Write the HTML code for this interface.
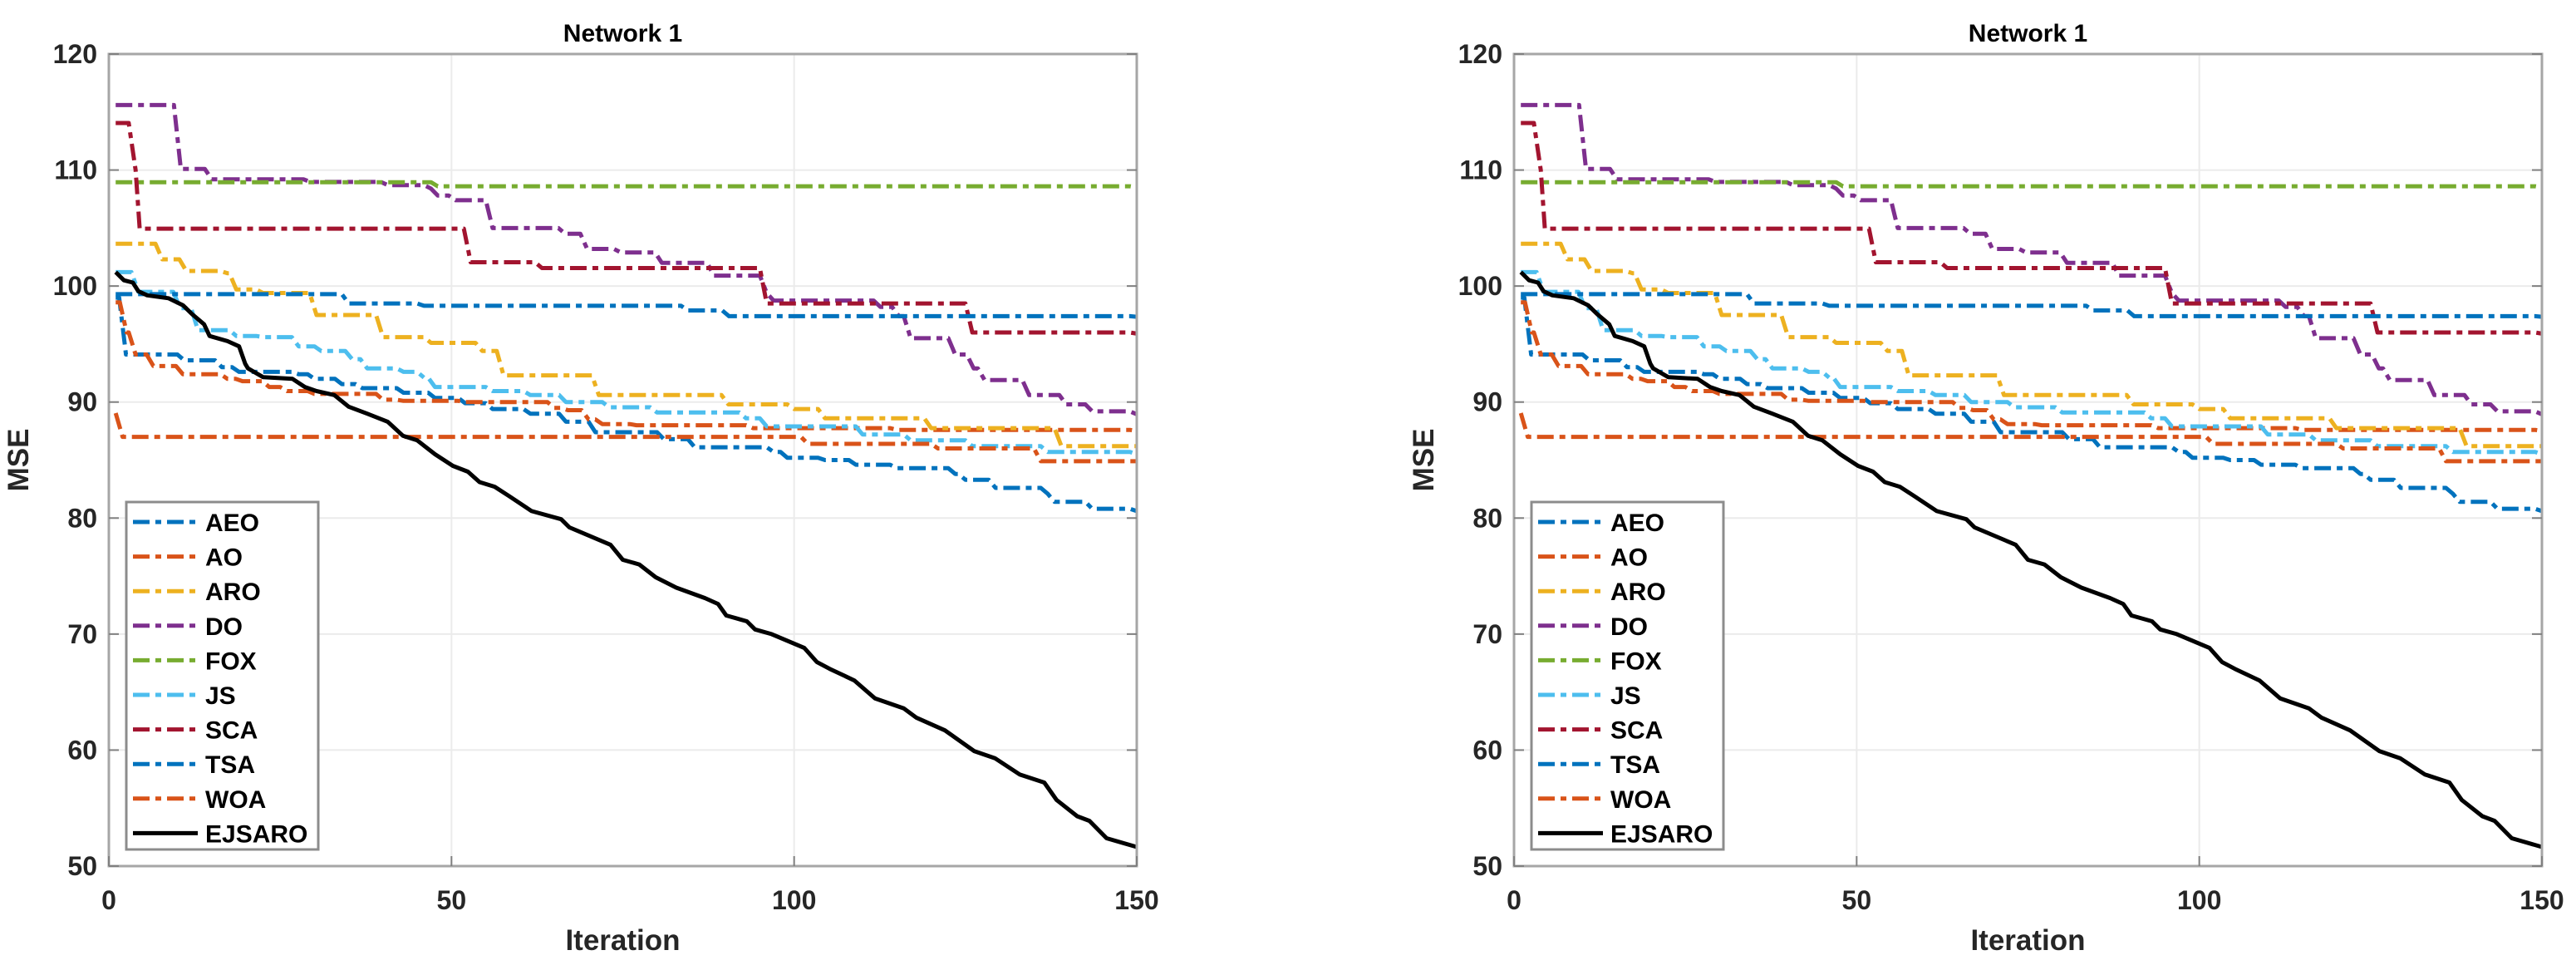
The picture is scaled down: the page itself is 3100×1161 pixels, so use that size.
<!DOCTYPE html>
<html><head><meta charset="utf-8"><style>
html,body{margin:0;padding:0;background:#fff;}
svg{display:block;font-family:"Liberation Sans",Arial,sans-serif;}
</style></head><body>
<svg id="root" width="3100" height="1161" viewBox="0 0 3100 1161" xmlns="http://www.w3.org/2000/svg"></svg>
<script>
const seriesNames = ["AEO","AO","ARO","DO","FOX","JS","SCA","TSA","WOA","EJSARO"];
const seriesColors = ["#0072BD","#D95319","#EDB120","#7E2F8E","#77AC30","#4DBEEE","#A2142F","#0072BD","#D95319","#000000"];
const xTicks = [0,50,100,150];
const yTicks = [50,60,70,80,90,100,110,120];
const aeoIter = [1,2.5,11,16.5,19,27.7,30,34,37,43,47.6,52,56,61.5,66.7,71,81,85.5,97,99,104.5,109,115,123.5,125,129.4,137,138,143.5,150];
const aeoVal  = [99,94.1,93.6,93.0,92.6,92.4,92.0,91.55,91.2,90.8,90.35,89.9,89.4,89.0,88.3,87.4,86.8,86.1,85.7,85.2,85.0,84.6,84.3,83.8,83.3,82.6,82.1,81.4,80.8,80.6];
const aoIter = [1,2.6,3.9,6.5,10.8,17.3,19.5,23.4,26,30,40,43,52,65,67,70,72,77,94,115,150];
const aoVal  = [98.6,96,94.1,93.1,92.4,92.0,91.8,91.3,90.95,90.7,90.2,90.1,90.0,89.5,89.3,88.5,88.1,88.0,87.75,87.6,87.5];
const aroIter = [1,7.8,11.3,17.3,18.6,22.5,30.3,40,47,54.5,57.6,71.5,90.4,100,104.5,120,139,150];
const aroVal  = [103.65,102.3,101.3,101.1,99.7,99.4,97.5,95.6,95.1,94.4,92.3,90.6,89.8,89.4,88.6,87.75,86.2,86.2];
const doIter = [1,10.5,15,29.4,40.7,47,48,50.6,56,66.6,69.8,74.7,80.7,88.3,96,97,112.6,115.3,117,123.5,126.2,127.8,134.3,139.7,143.5,150];
const doVal  = [115.6,110.1,109.2,108.97,108.7,108.4,107.8,107.4,105.0,104.5,103.2,102.9,102.0,100.9,99.4,98.75,98.2,97.4,95.5,94.1,92.9,91.9,90.6,89.8,89.2,88.95];
const foxIter = [1,48,150];
const foxVal  = [108.95,108.6,108.5];
const jsIter = [1,4.3,10.4,13,18.6,22.5,27.7,31,35.5,37.7,43,46,47.6,56,61.5,66.7,73,80,93,96,110,117,126,137,150];
const jsVal  = [101.2,99.5,98.1,96.2,95.7,95.6,94.8,94.4,93.7,92.9,92.6,92.1,91.3,90.95,90.6,90.0,89.55,89.1,88.6,87.9,87.2,86.7,86.2,85.7,85.5];
const scaIter = [1,3.9,4.5,52.8,63.2,96,126,150];
const scaVal  = [114.05,110,104.95,102.05,101.55,98.5,96.0,95.9];
const tsaIter = [1,35,46,84.5,90.5,150];
const tsaVal  = [99.3,98.5,98.3,97.9,97.4,97.35];
const woaIter = [1,2,102,121,136,150];
const woaVal  = [89.05,87.0,86.4,86.0,84.9,84.9];
const ejIter = [1,2.2,3.5,4.3,5.6,8.7,10.8,12.1,13.9,14.7,17.3,19,19.9,20.3,22.5,26.8,28.6,30.3,32.9,35,37.7,40.7,42.9,45,47.6,50.2,52.4,54.1,56.3,58.4,61.7,66,67.2,73.2,75,77.4,79.8,82.8,87,88.9,90.1,93.1,94.3,96.7,101.5,103.3,105.2,108.8,111.8,116,117.8,122,126.3,129.3,132.9,136.5,138.3,141.3,143.1,145.6,150];
const ejVal  = [101.2,100.5,100.3,99.55,99.2,98.95,98.35,97.6,96.7,95.7,95.25,94.8,93.3,92.9,92.15,92.0,91.3,90.95,90.6,89.6,89.0,88.3,87.1,86.7,85.5,84.5,84.0,83.1,82.7,81.9,80.6,79.9,79.2,77.7,76.4,76.0,74.9,74.0,73.1,72.6,71.6,71.1,70.4,70.0,68.8,67.6,67.0,66.0,64.45,63.6,62.8,61.7,59.9,59.3,57.9,57.2,55.7,54.3,53.9,52.4,51.65];
const allIter = [aeoIter,aoIter,aroIter,doIter,foxIter,jsIter,scaIter,tsaIter,woaIter,ejIter];
const allVal  = [aeoVal,aoVal,aroVal,doVal,foxVal,jsVal,scaVal,tsaVal,woaVal,ejVal];
const stepped = [true,true,true,true,true,true,true,true,true,false];

const NS="http://www.w3.org/2000/svg";
const root=document.getElementById('root');
function mk(tag,attrs,parent){const e=document.createElementNS(NS,tag);for(const k in attrs)e.setAttribute(k,attrs[k]);(parent||root).appendChild(e);return e;}

function drawPanel(L,pi){
  const R=L+1237,T=65,B=1042;
  const xs=v=>L+(v-0)/150*(R-L);
  const ys=v=>B-(v-50)/70*(B-T);
  const g=mk('g',{});
  
  
  xTicks.forEach(t=>{ if(t>0&&t<150){const l=mk('line',{x1:xs(t),x2:xs(t),y1:T,y2:B,stroke:'#ebebeb','stroke-width':2},g);
    }});
  yTicks.forEach(t=>{ if(t>50&&t<120){const l=mk('line',{x1:L,x2:R,y1:ys(t),y2:ys(t),stroke:'#ebebeb','stroke-width':2},g);
    }});
  allIter.forEach((it,si)=>{
    const va=allVal[si];let pts=[];
    if(stepped[si]){
      for(let i=0;i<it.length;i++){
        if(i>0){const hold=Math.max(it[i]-1,it[i-1]);pts.push([hold,va[i-1]]);}
        pts.push([it[i],va[i]]);
      }
      if(it[it.length-1]<150)pts.push([150,va[va.length-1]]);
    } else { for(let i=0;i<it.length;i++)pts.push([it[i],va[i]]); }
    const d=pts.map((p,i)=>(i?'L':'M')+xs(p[0]).toFixed(1)+' '+ys(p[1]).toFixed(1)).join(' ');
    const p=mk('path',{d:d,fill:'none',stroke:seriesColors[si],'stroke-width':5,'stroke-linejoin':'round'},g);
    if(stepped[si])p.setAttribute('stroke-dasharray','20 7 7 7');
    
    
  });
  const bx=mk('rect',{x:L,y:T,width:R-L,height:B-T,fill:'none',stroke:'#a6a6a6','stroke-width':3},g);
  
  xTicks.forEach(t=>{
    mk('line',{x1:xs(t),x2:xs(t),y1:B,y2:B-12,stroke:'#808080','stroke-width':2},g);
    const tx=mk('text',{x:xs(t),y:1094,'text-anchor':'middle','font-size':32,'font-weight':'bold',fill:'#262626'},g);
    tx.textContent=t;
  });
  yTicks.forEach(t=>{
    mk('line',{x1:L,x2:L+12,y1:ys(t),y2:ys(t),stroke:'#808080','stroke-width':2},g);
    mk('line',{x1:R,x2:R-12,y1:ys(t),y2:ys(t),stroke:'#808080','stroke-width':2},g);
    const tx=mk('text',{x:L-14,y:ys(t)+11,'text-anchor':'end','font-size':32,'font-weight':'bold',fill:'#262626'},g);
    tx.textContent=t;
  });
  const ti=mk('text',{x:(L+R)/2,y:50,'text-anchor':'middle','font-size':30,'font-weight':'bold',fill:'#000'},g);
  ti.textContent='Network 1';
  const xl=mk('text',{x:(L+R)/2,y:1143,'text-anchor':'middle','font-size':35,'font-weight':'bold',fill:'#262626'},g);
  xl.textContent='Iteration';
  const yl=mk('text',{x:0,y:0,'text-anchor':'middle','font-size':35,'font-weight':'bold',fill:'#262626',transform:`translate(${L-97},${(T+B)/2}) rotate(-90)`},g);
  yl.textContent='MSE';
  const lg=mk('g',{},g);
  
  const lx=L+21;
  mk('rect',{x:lx,y:604,width:231,height:418,fill:'#fff',stroke:'#8c8c8c','stroke-width':3},lg);
  seriesNames.forEach((n,i)=>{
    const y=628+i*41.6;
    const e=mk('g',{},lg);
    
    
    const ln=mk('line',{x1:lx+8,x2:lx+86,y1:y,y2:y,stroke:seriesColors[i],'stroke-width':5},e);
    if(stepped[i])ln.setAttribute('stroke-dasharray','20 7 7 7');
    const t=mk('text',{x:lx+95,y:y+11,'font-size':30,'font-weight':'bold',fill:'#000'},e);
    t.textContent=n;
  });
}
drawPanel(131,0);
drawPanel(1822,1);
</script>
</body></html>
